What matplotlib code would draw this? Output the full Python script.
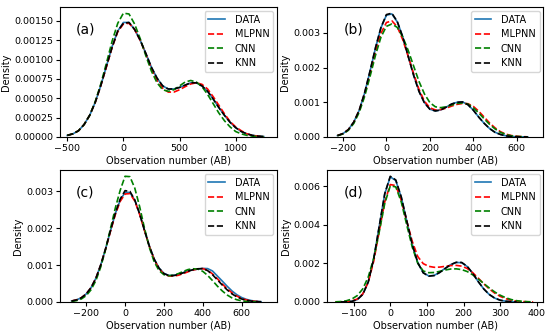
import numpy as np
import matplotlib
matplotlib.use("Agg")
import matplotlib.pyplot as plt
from matplotlib.ticker import MultipleLocator

nan = np.nan
models = ["DATA", "MLPNN", "CNN", "KNN"]

# KDE curves, density in units of 1e-5
# (a)
x_a = np.arange(-500, 1251, 50)
data_a = [2, 4, 8, 16, 28, 45, 67, 92, 117, 137, 148, 148, 139, 125, 108, 90, 76, 66, 62, 62,
          64, 67, 70, 70, 66, 59, 49, 38, 28, 19, 12, 7, 4, 2, 1, 0.5]
mlpnn_a = [2, 4, 8, 16, 28, 45, 67, 91, 116, 136, 146, 147, 139, 125, 107, 88, 73, 63, 58, 58,
           61, 65, 68.5, 70, 68, 62, 52, 41, 30, 20, 13, 8, 4, 2, 1, 0.5]
cnn_a = [2, 4, 8, 16, 28, 46, 69, 96, 124, 147, 160, 159, 146, 127, 105, 85, 70, 61, 59, 61,
         66, 71, 73, 71, 65, 55, 43, 31, 21, 13, 7, 4, 2, 1, 0.5, 0.2]
knn_a = [2, 4, 8, 16, 28, 45, 67, 92, 116, 137, 147, 148, 139, 125, 108, 90, 76, 66, 62, 62,
         64, 67, 70, 70, 66, 59, 49, 38, 28, 19, 12, 7, 4, 2, 1, 0.5]

# (b)
x_b = np.arange(-225, 651, 25)
data_b = [4, 9.6, 21, 43, 77, 127, 190, 257, 315, 351, 355, 332, 289, 234, 179, 132, 99, 80, 75, 78,
          86, 95, 100, 101, 93, 77, 57, 39, 24, 13.4, 7, 3.2, 1.3, 0.5, 0.2, 0.1]
mlpnn_b = [4, 9.5, 21, 42, 76, 124, 183, 246, 299, 330, 335, 318, 281, 233, 183, 137, 103, 84, 78, 79,
           83, 89, 94, 96.5, 96, 88, 74, 57, 40, 26, 15, 8, 4, 2, 0.8, 0.3]
cnn_b = [3.5, 8.5, 19, 39, 71, 117, 175, 236, 288, 319, 326, 316, 289, 250, 205, 160, 124, 99, 87, 84.5,
         87, 92, 96.5, 98, 95, 84, 69, 52, 36, 23, 13, 7, 3, 1.5, 0.6, 0.2]
knn_b = [4, 9.6, 21, 43, 77, 128, 191, 258, 316, 353, 357, 333, 289, 233, 178, 131, 98, 80, 75, 78,
         86, 95, 100, 101, 93, 77, 57, 39, 24, 13, 7, 3, 1.3, 0.5, 0.2, 0.1]

# (c)
x_c = np.arange(-275, 701, 25)
data_c = [2.5, 5.4, 11.2, 21.6, 38.7, 64.4, 100.7, 144.4, 192.9, 239.5,
          276.5, 297.2, 297.3, 276.2, 239.3, 194.9, 152, 116.6, 91.9, 77.6,
          71.9, 72, 75.3, 79.8, 84.1, 87.3, 89, 91, 90.5, 84,
          70.4, 56.8, 42.8, 30, 19.7, 12, 6.9, 3.7, 1.8, 0.6]
mlpnn_c = [2.5, 5.4, 11.2, 21.6, 38.5, 64, 100, 143.5, 191.5, 237,
           273, 293, 294, 274, 238, 194, 151, 115, 90, 76,
           70.5, 70, 72.5, 77, 82, 86.5, 89.5, 90.5, 86, 76,
           63, 49, 36, 25, 16, 9.5, 5.3, 2.7, 1.3, 0.6]
cnn_c = [1.5, 3.5, 8, 17, 33, 58, 95, 143, 199, 255,
         303, 341, 340, 309, 259, 200, 148, 109, 85, 74,
         71, 72.5, 77, 83, 88, 90, 89, 83, 72, 58,
         43, 30, 19, 11, 6, 3, 1.3, 0.5, 0.2, 0.1]
knn_c = [2.5, 5.4, 11.2, 21.6, 38.7, 64.4, 100.7, 144.5, 193.5, 241,
         279, 302, 300, 277, 239, 194, 151.5, 116, 91.5, 77,
         71.5, 71.5, 74.5, 79, 83.5, 87.5, 90, 90.5, 85, 74,
         60, 46, 33, 22, 14, 8, 4.5, 2.2, 1, 0.5]

# (d)
x_d = np.arange(-150, 391, 15)
data_d = [nan, 0.1, 0.6, 3.1, 12.3, 39.8, 105, 226, 394, 562,
          650, 631, 544, 421, 299, 205, 152, 135, 138, 154,
          175, 194, 205, 204, 184, 148, 106, 68, 39, 20,
          9, 3.7, 1.3, 0.4, nan, nan, nan]
mlpnn_d = [0.1, 0.4, 1.5, 5, 15, 42, 103, 213, 368, 520,
           610, 605, 529, 420, 315, 236, 199, 185, 180, 181,
           185, 189, 190, 186, 174, 152, 124, 95, 68, 46,
           29, 17, 9, 4.5, 2, 0.8, 0.3]
cnn_d = [0.5, 2, 6, 15, 33, 68, 130, 229, 365, 512,
         603, 598, 520, 400, 285, 201, 161, 152, 153, 159,
         166, 171, 172, 168, 158, 141, 120, 96, 73, 52,
         35, 22, 12.5, 6.5, 3, 1.2, 0.4]
knn_d = [nan, 0.1, 0.6, 3, 12, 39, 104, 225, 394, 563,
         653, 634, 546, 422, 299, 204, 151, 134, 137, 153,
         174, 194, 206, 205, 185, 149, 106, 68, 39, 20,
         9, 3.7, 1.3, 0.4, nan, nan, nan]

styles = {"DATA": dict(color="#1f77b4", ls="-"),
          "MLPNN": dict(color="red", ls="--"),
          "CNN": dict(color="g", ls="--"),
          "KNN": dict(color="black", ls="--")}


def Make_Panel(rect, x, curves, tag, xlim, ystep=None):
    ax = fig.add_axes(rect)
    for name, y in zip(models, curves):
        ax.plot(x, np.array(y) * 1e-5, lw=1.2, label=name, **styles[name])
    ax.set_xlim(xlim)
    ax.set_ylim(bottom=0)
    if ystep:
        ax.yaxis.set_major_locator(MultipleLocator(ystep))
    ax.set_xlabel("Observation number (AB)", fontsize=7, labelpad=2)
    ax.set_ylabel("Density", fontsize=7, labelpad=2)
    ax.tick_params(labelsize=6.8, length=3, pad=2)
    ax.text(0.075, 0.83, tag, transform=ax.transAxes, fontsize=10, va="center")
    ax.legend(loc="upper right", fontsize=7, handlelength=1.7, handletextpad=1.0,
              borderaxespad=0.4, labelspacing=0.45)
    return ax


fig = plt.figure(figsize=(5.5, 3.34), dpi=100)
Make_Panel([0.109, 0.590, 0.395, 0.389], x_a, [data_a, mlpnn_a, cnn_a, knn_a], "(a)", (-565, 1370), 0.00025)
Make_Panel([0.595, 0.590, 0.393, 0.389], x_b, [data_b, mlpnn_b, cnn_b, knn_b], "(b)", (-272, 722))
Make_Panel([0.109, 0.096, 0.395, 0.395], x_c, [data_c, mlpnn_c, cnn_c, knn_c], "(c)", (-335, 783))
Make_Panel([0.595, 0.096, 0.393, 0.395], x_d, [data_d, mlpnn_d, cnn_d, knn_d], "(d)", (-172, 418))
plt.savefig("out.png", dpi=100)
